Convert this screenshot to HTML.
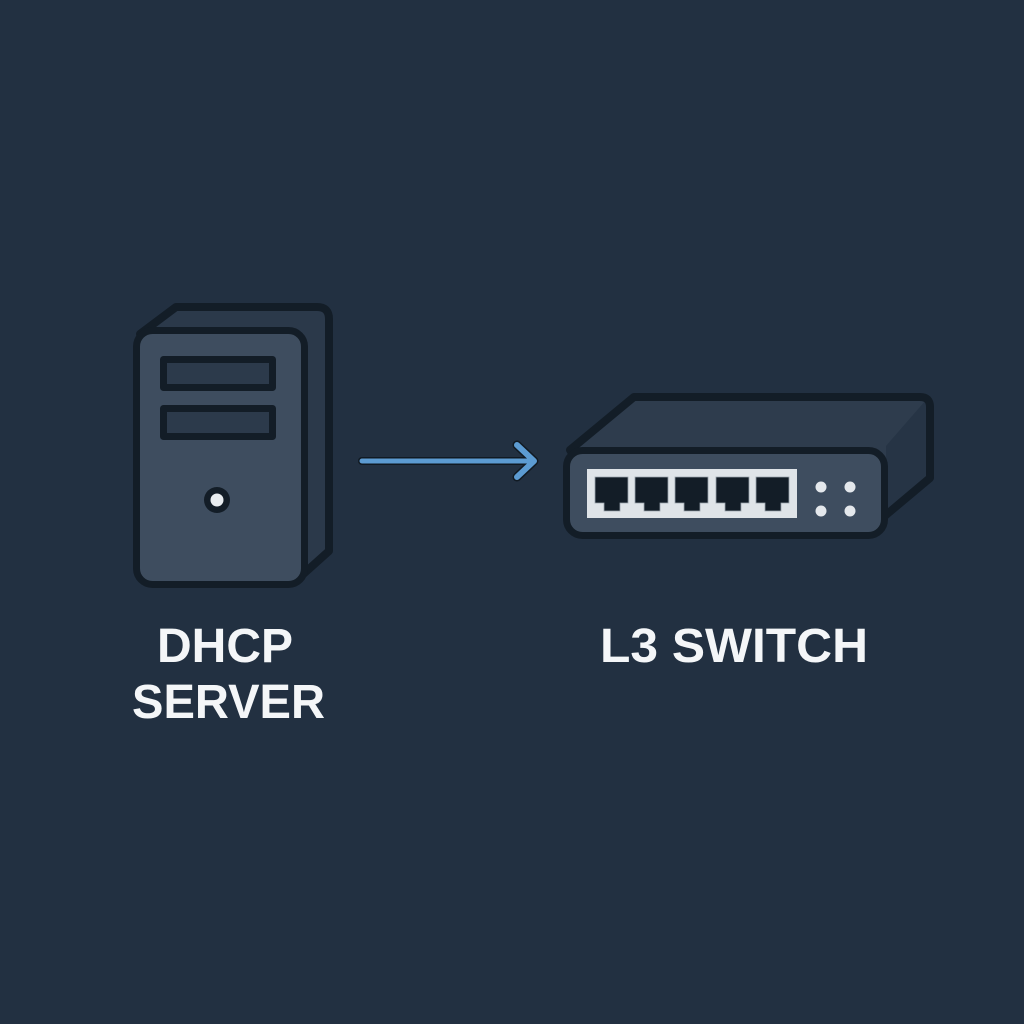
<!DOCTYPE html>
<html><head><meta charset="utf-8"><style>
html,body{margin:0;padding:0;background:#223041;}
svg{display:block;}
</style></head><body>
<svg width="1024" height="1024" viewBox="0 0 1024 1024" xmlns="http://www.w3.org/2000/svg">
<rect width="1024" height="1024" fill="#223041"/>
<!-- Server -->
<g stroke="#131d27" stroke-width="7" stroke-linejoin="round">
  <path d="M176,307 L317,307 Q329,307 329,319 L329,551 L300,577 L300,340 L140,334 Z" fill="#2b394a" stroke-width="8"/>
  <rect x="136.5" y="330.5" width="168" height="254" rx="16" fill="#3e4d5f"/>
  <rect x="163.5" y="359.5" width="109" height="28" fill="#2c3a4b"/>
  <rect x="163.5" y="408.5" width="109" height="28" fill="#2c3a4b"/>
</g>
<circle cx="217" cy="500" r="13" fill="#131d27"/>
<circle cx="217" cy="500" r="6.5" fill="#e9edf0"/>
<!-- Arrow -->
<g stroke-linecap="round" stroke-linejoin="round" fill="none">
  <line x1="362" y1="461" x2="531" y2="461" stroke="#111a23" stroke-width="8"/>
  <polyline points="517,445 534,461 517,477" stroke="#111a23" stroke-width="9"/>
  <line x1="362" y1="461" x2="531" y2="461" stroke="#5c9bd2" stroke-width="5"/>
  <polyline points="517,445 534,461 517,477" stroke="#5c9bd2" stroke-width="6"/>
</g>
<!-- Switch -->
<path d="M634,397 L920,397 Q930,397 930,407 L930,478 L886,518 L860,500 L600,500 L570,450 Z" fill="#2e3c4d"/>
<path d="M926,400 L930,407 L930,478 L886,518 L886,446 Z" fill="#263445"/>
<path d="M634,397 L920,397 Q930,397 930,407 L930,478 L880,520 L860,500 L600,500 L570,450 Z" fill="none" stroke="#131d27" stroke-width="8" stroke-linejoin="round"/>
<rect x="566.5" y="450.5" width="318" height="85" rx="16" fill="#3e4d5f" stroke="#131d27" stroke-width="7"/>
<rect x="587" y="469" width="210" height="49" fill="#dfe4e8"/>
<g fill="#131d27" stroke="#9aa4ad" stroke-width="0.8">
  <path d="M595,477 H628 V503 H620 V511 H604 V503 H595 Z"/>
  <path d="M635,477 H668 V503 H660 V511 H644 V503 H635 Z"/>
  <path d="M675,477 H708 V503 H700 V511 H684 V503 H675 Z"/>
  <path d="M716,477 H749 V503 H741 V511 H725 V503 H716 Z"/>
  <path d="M756,477 H789 V503 H781 V511 H765 V503 H756 Z"/>
</g>
<g fill="#e4e8ec">
  <circle cx="821" cy="487" r="5.5"/>
  <circle cx="850" cy="487" r="5.5"/>
  <circle cx="821" cy="511" r="5.5"/>
  <circle cx="850" cy="511" r="5.5"/>
</g>
<!-- Labels -->
<g fill="#f4f6f8" font-family="'Liberation Sans', sans-serif" font-weight="bold" font-size="48">
  <text x="157" y="662" textLength="136" lengthAdjust="spacingAndGlyphs">DHCP</text>
  <text x="132" y="718" textLength="193" lengthAdjust="spacingAndGlyphs">SERVER</text>
  <text x="600" y="662" textLength="268" lengthAdjust="spacingAndGlyphs">L3 SWITCH</text>
</g>
</svg>
</body></html>
